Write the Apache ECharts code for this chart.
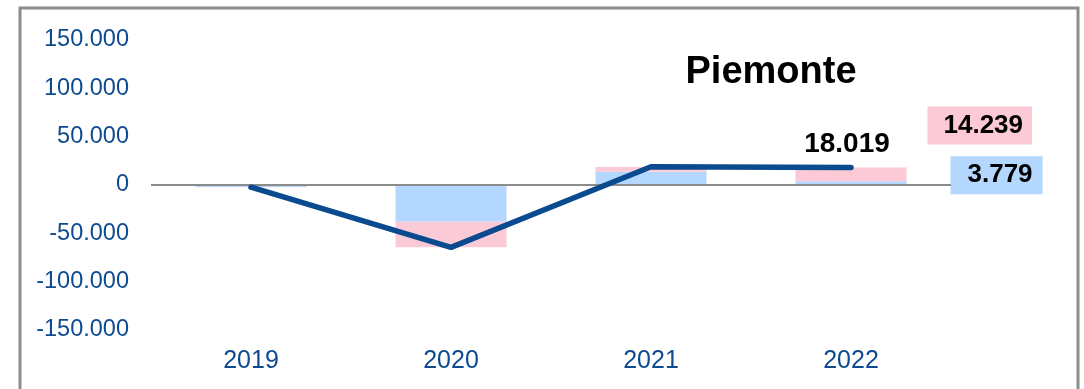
<!DOCTYPE html>
<html>
<head>
<meta charset="utf-8">
<script src="https://cdn.jsdelivr.net/npm/echarts@6/dist/echarts.min.js"></script>
<style>
  html, body { margin: 0; padding: 0; background: #fff; }
  #chart { width: 1084px; height: 389px; }
</style>
</head>
<body>
<div id="chart"></div>
<script>
var years = ['2019', '2020', '2021', '2022']
var bluVals = [-2000, -38000, 13800, 3779]
var pinkVals = [-300, -26500, 4900, 14239]
var totVals = [-2300, -64500, 18900, 18019]
var yTicks = [-150000, 150000, 50000] // min, max, step

// numeri all'italiana: 150.000
function fmt(v) {
    var s = String(Math.abs(Math.round(v))).replace(/\B(?=(\d{3})+(?!\d))/g, '.')
    return (v < 0 ? '-' : '') + s
}

var last = years.length - 1
var blueData = bluVals.map(function (v, i) {
    if (i !== last) return v
    return {
        value: v,
        label: {
            show: true, position: 'right', distance: 44, offset: [0, -8],
            formatter: function (p) { return fmt(p.value) },
            backgroundColor: '#b3d7ff', padding: [6, 10, 6, 17],
            color: '#000', fontSize: 26, fontWeight: 'bold', fontFamily: 'Liberation Sans, Arial'
        }
    }
})
var pinkData = pinkVals.map(function (v, i) {
    if (i !== last) return v
    return {
        value: v,
        label: {
            show: true, position: 'right', distance: 21, offset: [0, -49],
            formatter: function (p) { return fmt(p.value) },
            backgroundColor: '#fccad6', padding: [6, 9, 6, 16],
            color: '#000', fontSize: 26, fontWeight: 'bold', fontFamily: 'Liberation Sans, Arial'
        }
    }
})
var totData = totVals.map(function (v, i) {
    if (i !== last) return v
    return {
        value: v,
        label: {
            show: true, position: 'top', distance: 9, offset: [-4, 0],
            formatter: function (p) { return fmt(p.value) },
            color: '#000', fontSize: 28, fontWeight: 'bold', fontFamily: 'Liberation Sans, Arial'
        }
    }
})

var myChart = echarts.init(document.getElementById('chart'))
var option = {
    animation: false,
    title: {
        text: 'Piemonte',
        left: 766, top: 49, textAlign: 'center',
        textStyle: { fontSize: 38, fontWeight: 'bold', color: '#000', fontFamily: 'Liberation Sans, Arial' }
    },
    graphic: [{
        type: 'rect',
        shape: { x: 20, y: 8, width: 1058, height: 420 },
        style: { fill: 'none', stroke: '#8c8c8c', lineWidth: 3 },
        silent: true
    }],
    grid: { left: 151, right: 133, top: 40, bottom: 59 },
    xAxis: {
        type: 'category',
        data: years,
        axisLine: { show: false },
        axisTick: { show: false },
        axisLabel: { color: '#0d4a8f', fontSize: 25, margin: 19, fontFamily: 'Liberation Sans, Arial' }
    },
    yAxis: {
        type: 'value',
        min: yTicks[0],
        max: yTicks[1],
        interval: yTicks[2],
        axisLine: { show: false },
        axisTick: { show: false },
        splitLine: { show: false },
        axisLabel: {
            color: '#0d4a8f', fontSize: 23.5, margin: 22, fontFamily: 'Liberation Sans, Arial',
            formatter: fmt
        }
    },
    series: [
        {
            type: 'bar', stack: 'tot', barWidth: 111,
            itemStyle: { color: '#b3d7ff' },
            data: blueData,
            markLine: {
                silent: true, symbol: 'none',
                label: { show: false },
                lineStyle: { color: '#8c8c8c', width: 2, type: 'solid' },
                data: [{ yAxis: 0 }]
            }
        },
        {
            type: 'bar', stack: 'tot', barWidth: 111,
            itemStyle: { color: '#fccad6' },
            data: pinkData
        },
        {
            type: 'line', z: 5,
            symbol: 'circle', symbolSize: 0.1, showSymbol: true,
            itemStyle: { color: '#0a4a8e' },
            lineStyle: { color: '#0a4a8e', width: 5.5, cap: 'round', join: 'round' },
            data: totData
        }
    ]
}
myChart.setOption(option)
</script>
</body>
</html>
